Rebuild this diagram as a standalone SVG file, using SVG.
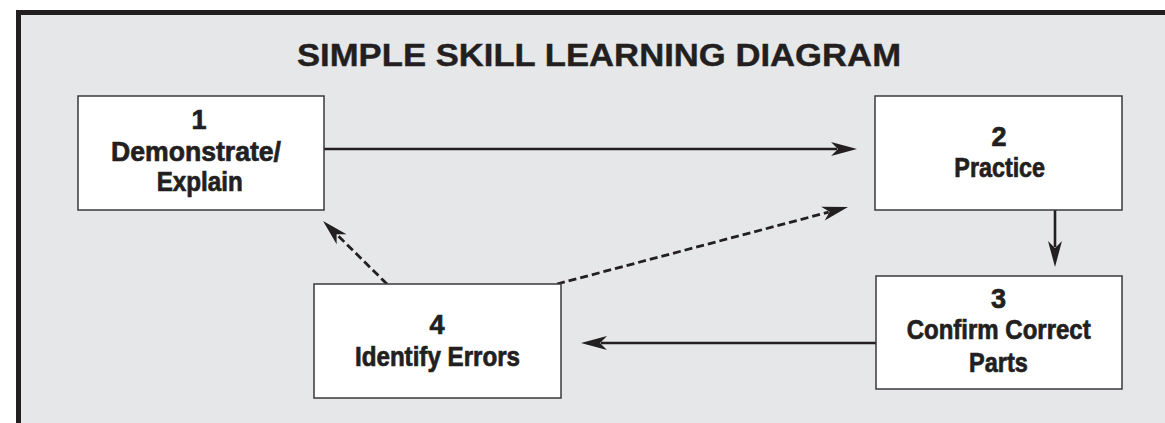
<svg xmlns="http://www.w3.org/2000/svg" width="1165" height="423" viewBox="0 0 1165 423">
  <style>
    .panel { fill: #e6e7e8; }
    .frame { fill: #231f20; }
    .box { fill: #ffffff; stroke: #3a3a3c; stroke-width: 1.5; }
    .title { font-family: "Liberation Sans", Arial, sans-serif; font-weight: bold; font-size: 32px; fill: #231f20; stroke: #231f20; stroke-width: 0.4; }
    .label { font-family: "Liberation Sans Narrow", "Liberation Sans", Arial, sans-serif; font-weight: bold; font-size: 27px; fill: #231f20; stroke: #231f20; stroke-width: 0.7; text-anchor: middle; }
    .solid { fill: none; stroke: #231f20; stroke-width: 2.6; }
    .dashed { fill: none; stroke: #231f20; stroke-width: 2.8; stroke-dasharray: 8 4; }
  </style>
  <defs>
    <!-- barbed arrowhead; origin sits 20px behind the tip -->
    <marker id="head" viewBox="-8 -9 30 18" refX="0" refY="0" markerWidth="30" markerHeight="18" markerUnits="userSpaceOnUse" orient="auto">
      <path d="M20,0 L-6,-7 L1,0 L-6,7 Z" fill="#231f20"/>
    </marker>
  </defs>

  <!-- background panel and frame -->
  <rect x="0" y="0" width="1165" height="423" fill="#ffffff"/>
  <rect class="panel" x="16" y="10" width="1149" height="413"/>
  <rect class="frame" x="16" y="10" width="1149" height="5"/>
  <rect class="frame" x="16" y="10" width="5" height="413"/>

  <text class="title" x="297" y="66" textLength="604" lengthAdjust="spacingAndGlyphs">SIMPLE SKILL LEARNING DIAGRAM</text>

  <g id="connectors">
    <line class="solid" x1="324" y1="149" x2="837" y2="149" marker-end="url(#head)"/>
    <line class="solid" x1="1055" y1="210" x2="1055" y2="247" marker-end="url(#head)"/>
    <line class="solid" x1="876" y1="343" x2="601" y2="343" marker-end="url(#head)"/>
    <line class="dashed" x1="387" y1="284" x2="337.3" y2="235" marker-end="url(#head)"/>
    <line class="dashed" x1="557" y1="284" x2="828.7" y2="212.1" marker-end="url(#head)"/>
  </g>

  <g id="node1">
    <rect class="box" x="78" y="96" width="246" height="114"/>
    <text class="label" x="199" y="129">1</text>
    <text class="label" x="196" y="160.5" textLength="170" lengthAdjust="spacingAndGlyphs">Demonstrate/</text>
    <text class="label" x="199.7" y="191" textLength="86" lengthAdjust="spacingAndGlyphs">Explain</text>
  </g>

  <g id="node2">
    <rect class="box" x="875" y="96" width="247" height="114"/>
    <text class="label" x="999" y="145.5">2</text>
    <text class="label" x="999.7" y="177" textLength="90.7" lengthAdjust="spacingAndGlyphs">Practice</text>
  </g>

  <g id="node3">
    <rect class="box" x="876" y="276" width="246" height="113"/>
    <text class="label" x="998.4" y="307.7">3</text>
    <text class="label" x="998.7" y="339.3" textLength="184" lengthAdjust="spacingAndGlyphs">Confirm Correct</text>
    <text class="label" x="998.4" y="371.7" textLength="58.7" lengthAdjust="spacingAndGlyphs">Parts</text>
  </g>

  <g id="node4">
    <rect class="box" x="314" y="284" width="247" height="114"/>
    <text class="label" x="437" y="334">4</text>
    <text class="label" x="437.5" y="366" textLength="165" lengthAdjust="spacingAndGlyphs">Identify Errors</text>
  </g>
</svg>
